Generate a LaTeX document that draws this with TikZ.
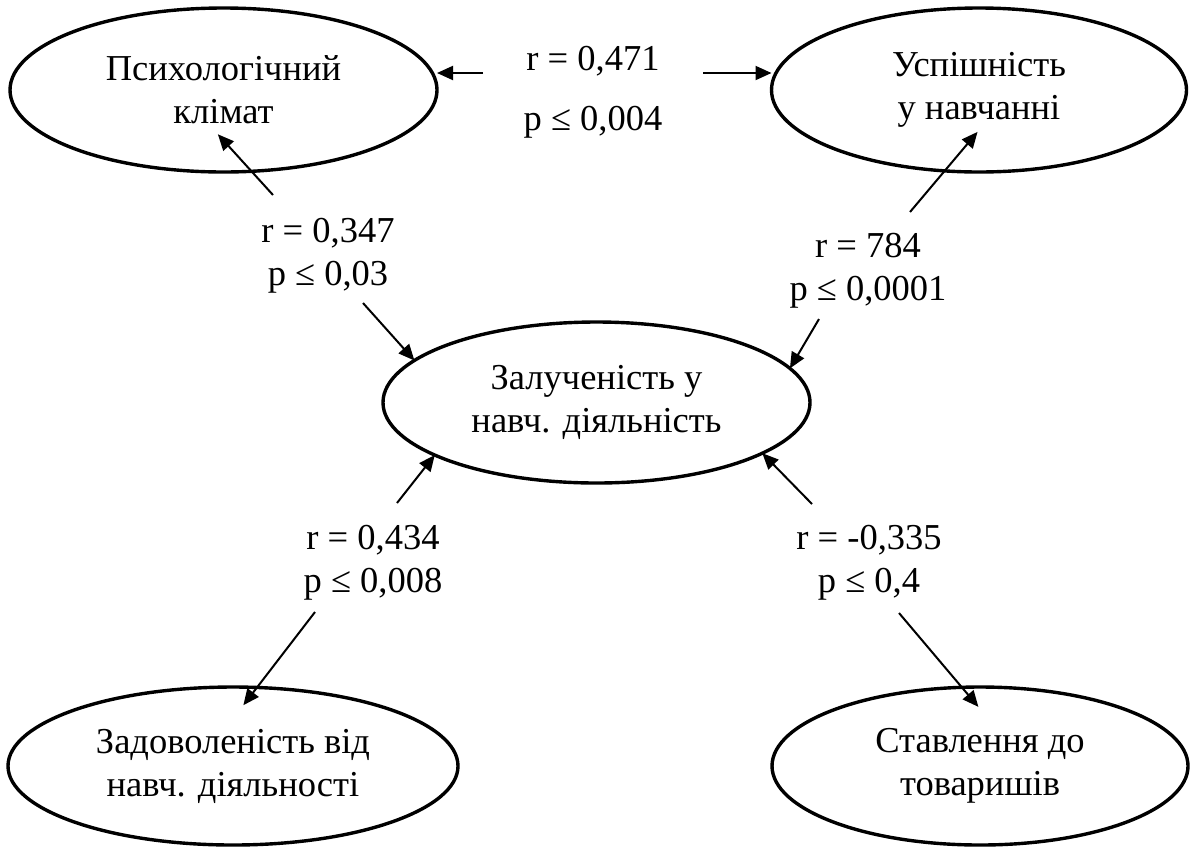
\documentclass[tikz,border=0pt]{standalone}
\usepackage{fontspec}
\setmainfont{Liberation Serif}
\usetikzlibrary{arrows.meta,shapes.geometric}

\begin{document}
\begin{tikzpicture}[
  x=0.5pt, y=-0.5pt,
  every node/.style={font=\fontsize{18.25}{21.5}\selectfont},
  oval/.style={draw, ellipse, line width=1.7pt, inner sep=0pt, outer sep=0pt, align=center},
  lbl/.style={align=center, inner sep=0pt},
  arrow/.style={-{Triangle[length=8pt, width=7pt]}, line width=1pt}
]
\useasboundingbox (0,0) rectangle (1192,847);
% ellipses
\node[oval, minimum width=213.5pt, minimum height=82pt] (klimat) at (223.5,90) {Психологічний\\клімат};
\node[oval, minimum width=207.5pt, minimum height=82pt] (uspih) at (979,90) {Успішність\\ у навчанні};
\node[oval, minimum width=213.5pt, minimum height=80.5pt] (zaluch) at (596.5,402.5) {Залученість у\\навч. діяльність};
\node[oval, minimum width=225pt, minimum height=79pt] (zadov) at (233,766) {Задоволеність від\\навч. діяльності};
\node[oval, minimum width=208pt, minimum height=79pt] (stavl) at (980,766) {Ставлення до\\товаришів};
% labels
\node[lbl] (r471) at (593,92.5) {r = 0,471\\[8.5pt]p ≤ 0,004};
\node[lbl] (r347) at (328,256) {r = 0,347\\p ≤ 0,03};
\node[lbl] (r784) at (868,271) {r = 784\\p ≤ 0,0001};
\node[lbl] (r434) at (373,563) {r = 0,434\\p ≤ 0,008};
\node[lbl] (r335) at (869,563) {r = -0,335\\p ≤ 0,4};
% arrow starts
\coordinate (r471w) at (483,73);
\coordinate (r471e) at (703,73);
\coordinate (r347n) at (273,195);
\coordinate (r347s) at (363,303);
\coordinate (r784n) at (910,212);
\coordinate (r784s) at (819,319);
\coordinate (r434n) at (397,503);
\coordinate (r434s) at (315,612);
\coordinate (r335n) at (812,504);
\coordinate (r335s) at (899,613);
% arrows
\draw[arrow] (r471w) -- (r471w -| klimat.east);
\draw[arrow] (r471e) -- (r471e -| uspih.west);
\draw[arrow, shorten >=-25pt] (r347n) -- (klimat.289.7);
\draw[arrow] (r347s) -- (zaluch.167);
\draw[arrow, shorten >=-25.5pt] (r784n) -- (uspih.247.2);
\draw[arrow] (r784s) -- (zaluch.10.4);
\draw[arrow] (r434n) -- (zaluch.198.6);
\draw[arrow, shorten >=-11.2pt] (r434s) -- (zadov.73.8);
\draw[arrow] (r335n) -- (zaluch.343.6);
\draw[arrow, shorten >=-12.8pt] (r335s) -- (stavl.103.2);
\end{tikzpicture}
\end{document}
